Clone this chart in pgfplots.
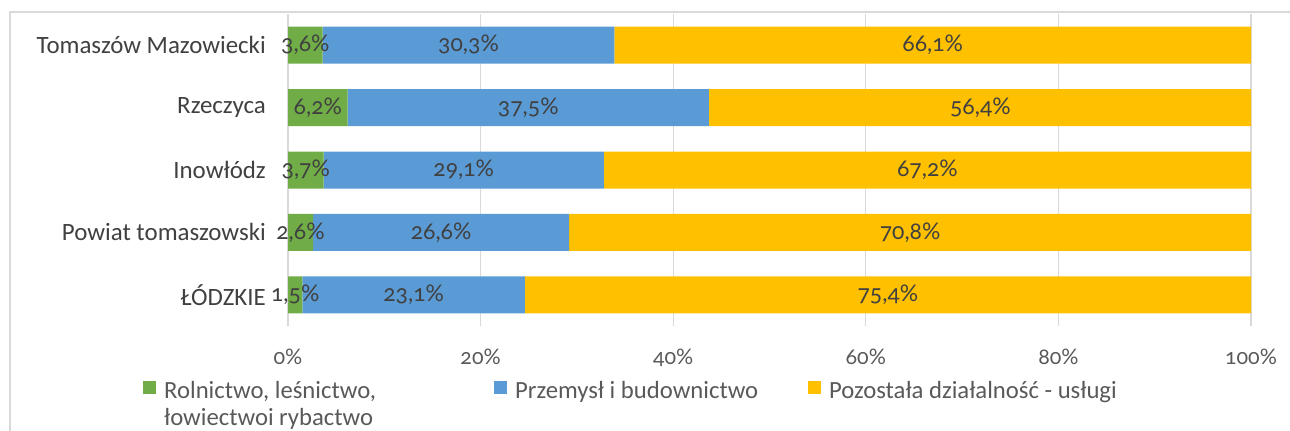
\documentclass[border=0pt]{standalone}
\usepackage{pgfplots}
\pgfplotsset{compat=1.18}
\usepackage{fontspec}
\setmainfont{Carlito}
\newfontfamily\numfont{Lato}[Numbers=OldStyle]
\definecolor{cgreen}{HTML}{70AD47}
\definecolor{cblue}{HTML}{5B9BD5}
\definecolor{cgold}{HTML}{FFC000}
\definecolor{cgrid}{HTML}{D9D9D9}
\definecolor{ctext}{HTML}{404040}
\definecolor{ctick}{HTML}{595959}
\begin{document}
\begin{tikzpicture}[x=1bp,y=1bp]
\path[use as bounding box] (0,0) rectangle (1290,430);
\draw[cgrid, line width=1.5bp] (10,-20) -- (10,418) -- (1310,418);
\begin{axis}[
  at={(288bp,104bp)}, anchor=south west,
  width=963bp, height=312bp, scale only axis,
  xbar stacked, bar width=37bp,
  xmin=0, xmax=100, ymin=-0.5, ymax=4.5,
  xtick={0,20,40,60,80,100},
  xticklabels={0\%,20\%,40\%,60\%,80\%,100\%},
  ytick={0,1,2,3,4},
  yticklabels={ŁÓDZKIE,Powiat tomaszowski,Inowłódz,Rzeczyca,Tomaszów Mazowiecki},
  xmajorgrids, grid style={cgrid, line width=1.2bp},
  axis line style={draw=none},
  major tick length=0pt,
  xticklabel style={font=\numfont\fontsize{21.5}{24}\selectfont, text=ctick, anchor=base, yshift=-38bp},
  yticklabel style={font=\fontsize{25}{30}\selectfont, text=ctext, anchor=east, inner sep=0pt, xshift=-22bp},
  legend columns=3,
  legend style={at={(-0.1506,-0.17)}, anchor=north west, draw=none, fill=none, inner sep=0pt,
    font=\fontsize{24.8}{27}\selectfont, text=ctick, cells={anchor=west},
    /tikz/every odd column/.append style={column sep=6bp}},
  legend image code/.code={\fill[#1, draw=none] (0bp,-3bp) rectangle (13bp,10bp);},
]
\addplot[fill=cgreen, draw=none] coordinates {(1.5,0) (2.6,1) (3.7,2) (6.2,3) (3.6,4)};
\addlegendentry{{\parbox[t]{328bp}{Rolnictwo, leśnictwo,\newline łowiectwoi rybactwo}}}
\addplot[fill=cblue, draw=none] coordinates {(23.1,0) (26.6,1) (29.1,2) (37.5,3) (30.3,4)};
\addlegendentry{\makebox[291bp][l]{Przemysł i budownictwo}}
\addplot[fill=cgold, draw=none] coordinates {(75.4,0) (70.8,1) (67.2,2) (56.4,3) (66.1,4)};
\addlegendentry{Pozostała działalność - usługi}
\end{axis}
\begin{axis}[
  at={(288bp,104bp)}, anchor=south west,
  width=963bp, height=312bp, scale only axis,
  xmin=0, xmax=100, ymin=-0.5, ymax=4.5,
  hide axis,
  nodes near coords, point meta=explicit symbolic,
  every node near coord/.append style={anchor=center, inner sep=0pt, font=\numfont\fontsize{23}{28}\selectfont, text=ctext},
]
\addplot[draw=none, mark=none] coordinates {
  (0.75,0) [1,5\%] (13.05,0) [23,1\%] (62.3,0) [75,4\%]
  (1.3,1) [2,6\%] (15.9,1) [26,6\%] (64.6,1) [70,8\%]
  (1.85,2) [3,7\%] (18.25,2) [29,1\%] (66.4,2) [67,2\%]
  (3.1,3) [6,2\%] (24.95,3) [37,5\%] (71.9,3) [56,4\%]
  (1.8,4) [3,6\%] (18.75,4) [30,3\%] (66.95,4) [66,1\%]
};
\end{axis}
\end{tikzpicture}
\end{document}
